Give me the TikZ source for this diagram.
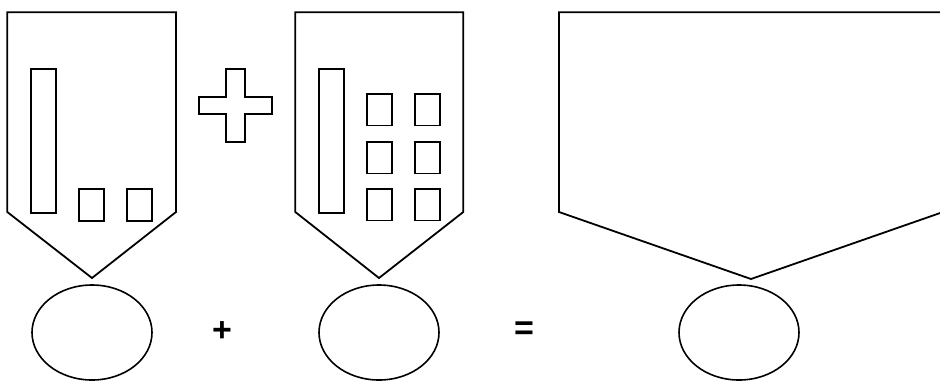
\documentclass[tikz,border=0pt]{standalone}
\usepackage{fontspec}
\setmainfont{Liberation Sans}
\usetikzlibrary{shapes.geometric}
\tikzset{
  ribbon/.style={draw=black, line width=1.8pt, line join=miter},
  bar/.style={draw=black, line width=1.8pt},
  medal/.style={draw=black, line width=1.6pt, ellipse, minimum width=120pt, minimum height=95pt, inner sep=0pt},
  sign/.style={font=\bfseries\fontsize{34}{36}\selectfont, inner sep=0pt}
}
\begin{document}
\begin{tikzpicture}[x=1pt, y=-1pt]
  \useasboundingbox (0,0) rectangle (940,384);
  % first medal: one long bar and two small ones
  \draw[ribbon] (7.3,12.3) -- (176,12.3) -- (176,212) -- (92,278) -- (7.3,212) -- cycle;
  \draw[bar] (31,69) rectangle (56,213);
  \draw[bar] (79,189) rectangle (104,221);
  \draw[bar] (127,189) rectangle (152,221);
  \node[medal] (M1) at (92,332.5) {};
  % the cross between the two ribbons
  \draw[bar] (226,69) -- (245,69) -- (245,97) -- (272,97) -- (272,114) -- (245,114) -- (245,142)
    -- (226,142) -- (226,114) -- (199,114) -- (199,97) -- (226,97) -- cycle;
  % second medal: one long bar and six small ones
  \draw[ribbon] (295.3,12.3) -- (463.3,12.3) -- (463.3,212) -- (379,278) -- (295.3,212) -- cycle;
  \draw[bar] (319,69) rectangle (344,213);
  \foreach \col in {367,415}
    \foreach \row in {94,142,189}
      \draw[bar] (\col,\row) rectangle ++(25,31.5);
  \node[medal] (M2) at (379,332.5) {};
  % result: the wide empty ribbon
  \draw[ribbon] (559,12.3) -- (943,12.3) -- (943,212) -- (751,279) -- (559,212) -- cycle;
  \node[medal] (M3) at (739,332.5) {};
  % signs between the medals
  \node[sign] (plus) at (222,332) {+};
  \node[sign] (equals) at (524,331) {=};
\end{tikzpicture}
\end{document}
